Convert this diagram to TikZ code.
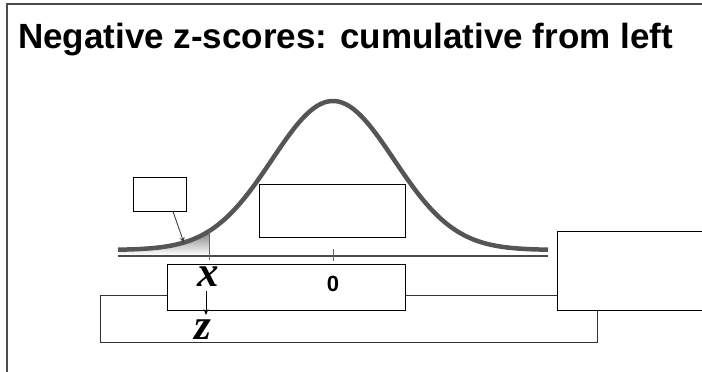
\documentclass[tikz,border=0pt]{standalone}
\usepackage{fontspec}
\setmainfont{Liberation Serif}
\setsansfont{Liberation Sans}
\usetikzlibrary{arrows.meta}
\definecolor{curvegray}{HTML}{555555}
\definecolor{axisgray}{HTML}{4A4A4A}
\definecolor{shade}{HTML}{EDEDED}
\tikzset{
  box/.style={draw=black, line width=0.9pt, fill=white, inner sep=0pt},
  backbox/.style={draw=black!80, line width=0.9pt, inner sep=0pt},
  mathlbl/.style={font=\fontsize{43}{43}\selectfont\bfseries\itshape, inner sep=0pt, anchor=base},
  zerolbl/.style={font=\sffamily\bfseries\fontsize{22}{22}\selectfont, inner sep=0pt, anchor=base},
  thin gray/.style={draw=black!60, line width=0.8pt}
}
\begin{document}
\begin{tikzpicture}[x=1pt,y=-1pt]
\useasboundingbox (0,0) rectangle (702,372);
\clip (0,0) rectangle (702,372);
% frame
\draw[draw=black!70, line width=1.2pt] (7,372) -- (7,4) -- (702,4);
% title
\node[anchor=base west, inner sep=0pt, font=\sffamily\bfseries\fontsize{35}{35}\selectfont] (title) at (18,48) {Negative z-scores: cumulative from left};
% shaded tail
\fill[shade] (118,255) -- plot[domain=118:209, samples=60] (\x, {250-149*exp(-0.5*((\x-333)/61)^2)}) -- (209,255) -- cycle;
% curve
\draw[curvegray, line width=4.5pt] plot[domain=118:548, samples=150, smooth] (\x, {250-149*exp(-0.5*((\x-333)/61)^2)});
% axis
\draw[axisgray, line width=2pt] (118,255.5) -- (548,255.5);
\coordinate (tickx) at (209,260);
\coordinate (tickxtop) at (209,{250-149*exp(-0.5*((209-333)/61)^2)});
\draw[thin gray] (tickxtop) -- (tickx);
\coordinate (tick0a) at (333,249);
\coordinate (tick0b) at (333,261);
\draw[thin gray] (tick0a) -- (tick0b);
% boxes
\node[backbox, minimum width=497pt, minimum height=47pt] (big) at (348.5,318.5) {};
\node[box, minimum width=238pt, minimum height=46pt] (lower) at (286,287) {};
\node[box, minimum width=155pt, minimum height=79pt] (right) at (634.5,270.5) {};
\node[box, minimum width=53pt, minimum height=34pt] (small) at (159.5,194) {};
\node[box, minimum width=146pt, minimum height=53pt] (mid) at (332,210.5) {};
% labels
\node[mathlbl] (xl) at (208,286) {x};
\node[zerolbl] (zero) at (333,291) {0};
\node[mathlbl] (zl) at (203,339) {z};
% arrows
\coordinate (tailpt) at (184,243);
\draw[draw=black!75, line width=0.9pt, -{Stealth[length=6pt,width=5pt]}] ([xshift=13.5pt]small.south) -- (tailpt);
\draw[line width=0.9pt, -{Stealth[length=6pt,width=5pt]}] ([xshift=-2pt,yshift=-5pt]xl.south) -- ([xshift=3pt,yshift=4pt]zl.north);
\end{tikzpicture}
\end{document}
